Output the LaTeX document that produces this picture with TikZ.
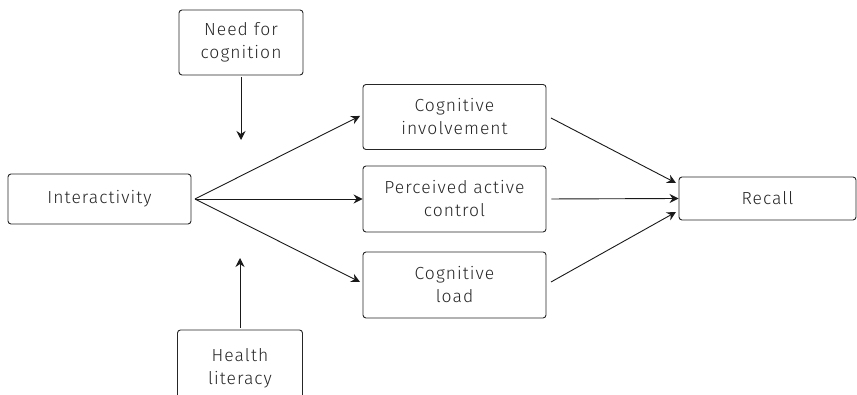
\documentclass[tikz,border=0pt]{standalone}
\usepackage{fontspec}
\setmainfont{Fira Sans}[UprightFont={* Light},LetterSpace=6]
\usetikzlibrary{arrows.meta}
\begin{document}
\begin{tikzpicture}[x=1pt,y=-1pt,
  box/.style={draw=black!85,line width=0.9pt,rounded corners=3pt,align=center,
    font=\fontsize{17.5}{23}\selectfont,text=black!85,inner sep=0pt},
  conn/.style={draw=black!90,line width=0.9pt,-{Stealth[length=9pt,width=9pt,inset=3pt]}}]
\useasboundingbox (0,0) rectangle (857,395);
\begin{scope}
\clip (0,0) rectangle (857,395);
\node[box,minimum width=124pt,minimum height=65pt] (nfc) at (241,42.5) {Need for\\cognition};
\node[box,minimum width=183pt,minimum height=50pt] (int) at (99.5,199) {Interactivity};
\node[box,minimum width=125pt,minimum height=76pt] (hl) at (240,368) {Health\\literacy};
\node[box,minimum width=183pt,minimum height=65pt] (ci) at (454.5,117) {Cognitive\\involvement};
\node[box,minimum width=183pt,minimum height=66pt] (pac) at (454.5,199) {Perceived active\\control};
\node[box,minimum width=183pt,minimum height=66pt] (cl) at (454.5,285) {Cognitive\\load};
\node[box,minimum width=177pt,minimum height=43pt] (rec) at (767.5,198.5) {Recall};
\end{scope}
\coordinate (a1) at (241,140);
\coordinate (a2) at (240,258);
\coordinate (o) at (195,199);
\draw[conn] ([yshift=-2pt]nfc.south) -- (a1);
\draw[conn] ([yshift=2pt]hl.north) -- (a2);
\draw[conn] (o) -- (360,116);
\draw[conn] (o) -- (pac.west);
\draw[conn] (o) -- (360,282);
\draw[conn] (551,118) -- (676,183);
\draw[conn,shorten <=5pt] (pac.east) -- (rec.west);
\draw[conn] (551,282) -- (676,212);
\end{tikzpicture}
\end{document}
